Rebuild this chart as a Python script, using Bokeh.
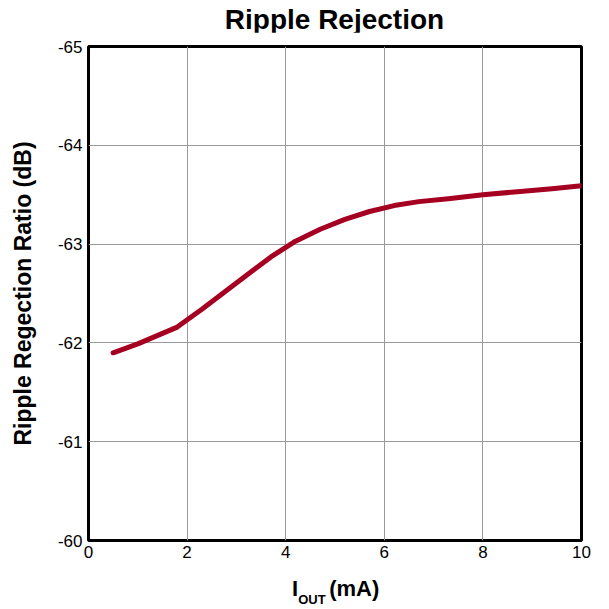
from bokeh.plotting import figure
from bokeh.models import Range1d, FixedTicker, Div
from bokeh.layouts import column
from bokeh.embed import file_html
from bokeh.resources import INLINE

# data
iout_ma = [0.5, 1.0, 1.8, 2.3, 2.8, 3.3, 3.7, 4.2, 4.7, 5.2, 5.7, 6.2, 6.7, 7.3, 8.0, 8.7, 9.4, 10.0]
ripple_db = [-61.90, -61.99, -62.16, -62.34, -62.53, -62.72, -62.87, -63.03, -63.15, -63.25, -63.33, -63.39, -63.43, -63.46, -63.50, -63.53, -63.56, -63.59]

x_ticks = [0, 2, 4, 6, 8, 10]
y_ticks = [-65, -64, -63, -62, -61, -60]
y_tick_labels = ["-65", "-64", "-63", "-62", "-61", "-60"]

title_text = "Ripple Rejection"
y_label = "Ripple Regection Ratio (dB)"
x_label_main, x_label_sub, x_label_unit = "I", "OUT", "(mA)"

FONT = "Liberation Sans"
W = 599

p = figure(
    width=W, frame_width=493, frame_height=494,
    min_border_left=88, min_border_right=18, min_border_top=14, min_border_bottom=28,
    x_range=Range1d(0, 10), y_range=Range1d(-60, -65),
    output_backend="svg", toolbar_location=None,
)

p.outline_line_color = "black"
p.outline_line_width = 3

for ax in (p.xaxis[0], p.yaxis[0]):
    ax.axis_line_color = None
    ax.major_tick_line_color = None
    ax.minor_tick_line_color = None
    ax.major_tick_in = 0
    ax.major_tick_out = 0
    ax.minor_tick_in = 0
    ax.minor_tick_out = 0
    ax.major_label_text_font = FONT
    ax.major_label_text_font_size = "17px"
    ax.major_label_text_color = "black"

p.xaxis.ticker = FixedTicker(ticks=x_ticks)
p.yaxis.ticker = FixedTicker(ticks=y_ticks)
p.yaxis.major_label_overrides = {t: s for t, s in zip(y_ticks, y_tick_labels)}
p.xaxis.major_label_standoff = 5
p.yaxis.major_label_standoff = 6

p.yaxis.axis_label = y_label
p.yaxis.axis_label_text_font = FONT
p.yaxis.axis_label_text_font_size = "23px"
p.yaxis.axis_label_text_font_style = "bold"
p.yaxis.axis_label_text_color = "black"
p.yaxis.axis_label_standoff = 19

p.xgrid.grid_line_color = "#9a9a9a"
p.ygrid.grid_line_color = "#9a9a9a"
p.xgrid.grid_line_width = 1
p.ygrid.grid_line_width = 1

p.line(iout_ma, ripple_db, line_color="#A50021", line_width=5, line_cap="round", line_join="round")

title_div = Div(
    text=(f'<div style="font-family:\'{FONT}\';font-weight:bold;font-size:28px;line-height:28px;'
          f'color:black;width:493px;margin-left:88px;padding-top:6px;text-align:center;white-space:nowrap">'
          f'{title_text}</div>'),
    width=W, height=32, margin=0,
)

xlabel_div = Div(
    text=(f'<div style="font-family:\'{FONT}\';font-weight:bold;font-size:22px;line-height:22px;'
          f'color:black;padding-left:292px;padding-top:10px;white-space:nowrap">'
          f'{x_label_main}<span style="font-size:13px;position:relative;top:8px">{x_label_sub} </span>'
          f'{x_label_unit}</div>'),
    width=W, height=41, margin=0,
)

layout = column(title_div, p, xlabel_div, spacing=0)

open("out.html", "w").write(file_html(layout, INLINE))
